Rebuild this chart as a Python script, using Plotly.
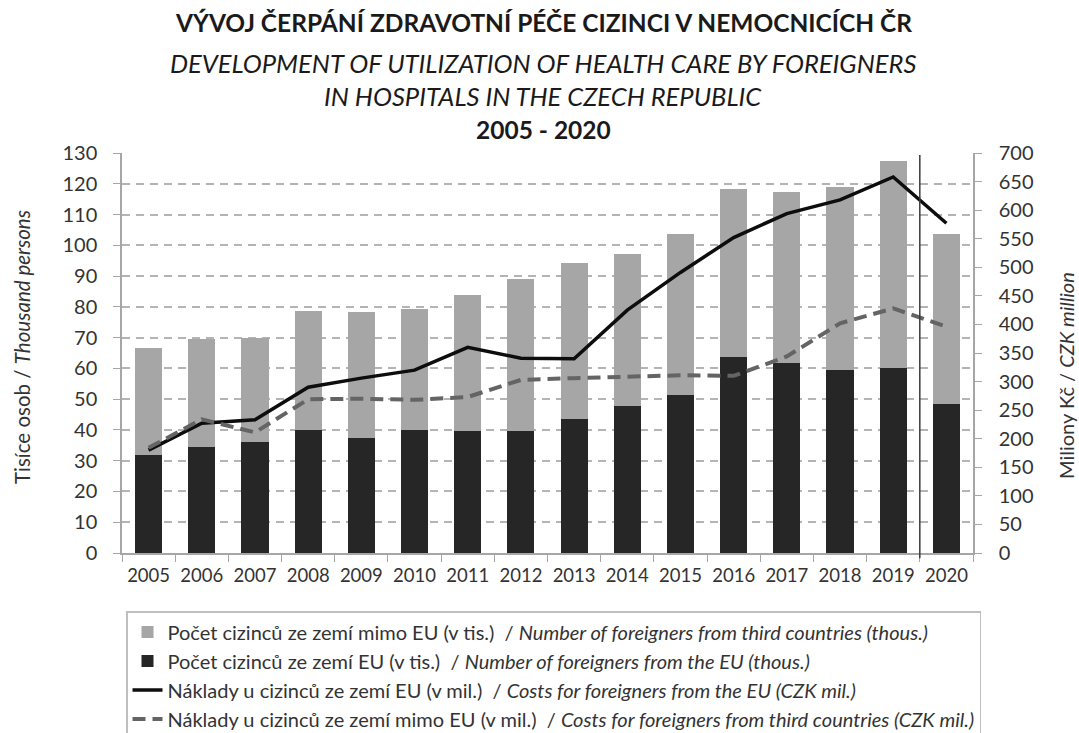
import plotly.graph_objects as go

years = ["2005", "2006", "2007", "2008", "2009", "2010", "2011", "2012",
         "2013", "2014", "2015", "2016", "2017", "2018", "2019", "2020"]
eu_persons = [31.8, 34.3, 36.1, 40.0, 37.5, 40.0, 39.8, 39.8,
              43.7, 47.8, 51.2, 63.7, 61.7, 59.6, 60.2, 48.5]
third_persons = [34.8, 35.1, 33.7, 38.8, 40.9, 39.2, 44.0, 49.2,
                 50.5, 49.4, 52.5, 54.5, 55.5, 59.4, 67.2, 55.1]
eu_costs = [180, 227, 233, 290, 306, 320, 360, 341,
            340, 425, 491, 552, 594, 618, 658, 577]
third_costs = [184, 234, 211, 269, 270, 268, 273, 303,
               306, 309, 311, 310, 344, 402, 428, 396]

names = [
    "Počet cizinců ze zemí mimo EU (v tis.)  / <i>Number of foreigners from third countries (thous.)</i>",
    "Počet cizinců ze zemí EU (v tis.)  / <i>Number of foreigners from the EU (thous.)</i>",
    "Náklady u cizinců ze zemí EU (v mil.)  / <i>Costs for foreigners from the EU (CZK mil.)</i>",
    "Náklady u cizinců ze zemí mimo EU (v mil.)  / <i>Costs for foreigners from third countries (CZK mil.)</i>",
]

FONT = "Lato"
TXT = "#333333"
TTL = "#1a1a1a"

fig = go.Figure()
fig.add_trace(go.Bar(x=years, y=eu_persons, name=names[1], marker_color="#262626",
                     marker_line_width=0, legendrank=2))
fig.add_trace(go.Bar(x=years, y=third_persons, name=names[0], marker_color="#a6a6a6",
                     marker_line_width=0, legendrank=1))
fig.add_trace(go.Scatter(x=years, y=eu_costs, name=names[2], yaxis="y2", mode="lines",
                         line=dict(color="#0d0d0d", width=3.5), legendrank=3))
fig.add_trace(go.Scatter(x=years, y=third_costs, name=names[3], yaxis="y2", mode="lines",
                         line=dict(color="#646464", width=4, dash="13px,7px"), legendrank=4))

sep_x = years.index("2020") - 0.5
fig.add_shape(type="line", xref="x", yref="paper", x0=sep_x, x1=sep_x, y0=-0.013, y1=0.995,
              line=dict(color="#3a3a3a", width=1.5))

title_x = 0.495
title_lines = [
    ("<b>VÝVOJ ČERPÁNÍ ZDRAVOTNÍ PÉČE CIZINCI V NEMOCNICÍCH ČR</b>", 22, 24.5),
    ("<i>DEVELOPMENT OF UTILIZATION OF HEALTH CARE BY FOREIGNERS</i>", 63, 25.5),
    ("<i>IN HOSPITALS IN THE CZECH REPUBLIC</i>", 96, 25.5),
    ("<b>2005 - 2020</b>", 130, 24.5),
]
for txt, ypx, fs in title_lines:
    fig.add_annotation(text=txt, xref="paper", yref="paper", x=title_x, y=(553 - ypx) / 400,
                       xanchor="center", yanchor="middle", showarrow=False,
                       font=dict(family=FONT, size=fs, color=TTL))

fig.add_annotation(text="Tisíce osob / <i>Thousand persons</i>", textangle=-90,
                   xref="paper", yref="paper", x=(22 - 122) / 851, y=(553 - 347) / 400,
                   xanchor="center", yanchor="middle",
                   showarrow=False, font=dict(family=FONT, size=20.5, color=TXT))
fig.add_annotation(text="Miliony Kč / <i>CZK million</i>", textangle=-90,
                   xref="paper", yref="paper", x=(1066 - 122) / 851, y=(553 - 376) / 400,
                   xanchor="center", yanchor="middle",
                   showarrow=False, font=dict(family=FONT, size=20, color=TXT))

axis_line = "#a6a6a6"
fig.update_layout(
    width=1079, height=733,
    margin=dict(l=122, r=106, t=153, b=180, autoexpand=False),
    paper_bgcolor="white", plot_bgcolor="white",
    barmode="stack", bargap=0.49,
    font=dict(family=FONT, size=20, color=TXT),
    xaxis=dict(type="category", showgrid=False, showline=True, linecolor=axis_line, linewidth=1.5,
               ticks="outside", tickson="boundaries", ticklen=7, tickcolor=axis_line,
               tickangle=0, ticklabelstandoff=5, tickfont=dict(size=18.5, color=TXT)),
    yaxis=dict(range=[0, 130], dtick=10, showgrid=True, gridcolor="#b4b4b4", griddash="8px,6px",
               gridwidth=1.5, showline=True, linecolor=axis_line, linewidth=1.5,
               ticks="outside", ticklen=7, tickcolor=axis_line, zeroline=False,
               ticklabelstandoff=12, tickfont=dict(size=20, color=TXT)),
    yaxis2=dict(range=[0, 700], dtick=50, overlaying="y", side="right", showgrid=False,
                showline=True, linecolor=axis_line, linewidth=1.5, ticks="outside", ticklen=7,
                tickcolor=axis_line, zeroline=False, ticklabelstandoff=13,
                tickfont=dict(size=20, color=TXT)),
    showlegend=True,
    legend=dict(x=(126 - 122) / 851, y=(553 - 611) / 400, xanchor="left", yanchor="top",
                orientation="v", bordercolor="#bfbfbf", borderwidth=1.5,
                font=dict(family=FONT, size=20, color=TXT), tracegroupgap=0,
                traceorder="normal", itemwidth=30),
)

fig.write_html("out.html", config={"displayModeBar": False},
               post_script="document.body.style.margin='0';")
